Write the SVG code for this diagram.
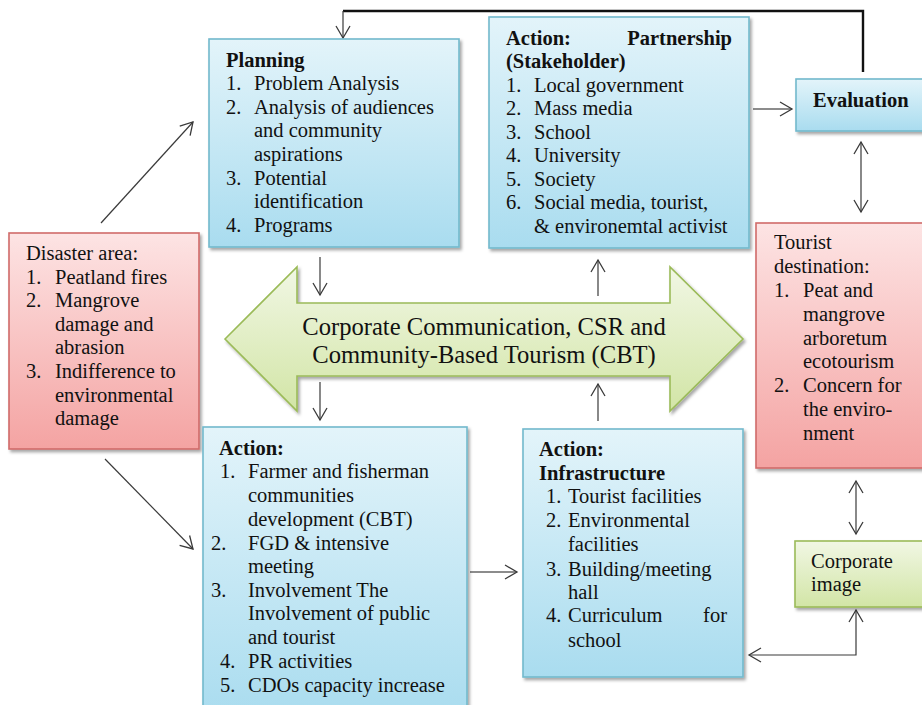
<svg xmlns="http://www.w3.org/2000/svg" width="922" height="705" viewBox="0 0 922 705">
<style>
.t{font-family:"Liberation Serif","Times New Roman",serif;font-size:20.5px;fill:#111}
.b{font-weight:bold}
.big{font-family:"Liberation Serif","Times New Roman",serif;font-size:24.6px;fill:#111}
.blue{fill:url(#gBlue);stroke:#72b9cc;stroke-width:1.6;filter:url(#sh)}
.red{fill:url(#gRed);stroke:#d06b69;stroke-width:1.6;filter:url(#sh)}
.green{fill:url(#gGreen);stroke:#9bbb59;stroke-width:1.6;filter:url(#sh)}
.c{fill:none;stroke:#3a3a3a;stroke-width:1.2}
.cg{fill:none;stroke:#666;stroke-width:1.4}
.fb{fill:none;stroke:#111;stroke-width:2.4}
</style>
<defs>
<linearGradient id="gBlue" x1="0" y1="0" x2="0" y2="1"><stop offset="0" stop-color="#e3f4fa"/><stop offset="1" stop-color="#a9dcef"/></linearGradient>
<linearGradient id="gRed" x1="0" y1="0" x2="0" y2="1"><stop offset="0" stop-color="#fde4e4"/><stop offset="1" stop-color="#f4a3a2"/></linearGradient>
<linearGradient id="gGreen" x1="0" y1="0" x2="0" y2="1"><stop offset="0" stop-color="#f1f7e4"/><stop offset="1" stop-color="#d2e5a6"/></linearGradient>
<filter id="sh" x="-10%" y="-10%" width="130%" height="130%"><feDropShadow dx="2" dy="2.5" stdDeviation="1.5" flood-color="#000" flood-opacity="0.35"/></filter>
<marker id="ah" markerUnits="userSpaceOnUse" markerWidth="16" markerHeight="18" refX="13" refY="8" orient="auto-start-reverse"><path d="M1,1 L13,8 L1,15" fill="none" stroke="#3a3a3a" stroke-width="1.3"/></marker>
</defs>

<g id="connectors">
<polyline class="fb" points="863,72 863,11 343,11"/>
<line x1="343" y1="11" x2="343" y2="38" class="c" marker-end="url(#ah)"/>
<line x1="101" y1="223" x2="193" y2="122" class="c" marker-end="url(#ah)"/>
<line x1="105" y1="459" x2="193" y2="549" class="c" marker-end="url(#ah)"/>
<line x1="320" y1="257" x2="320" y2="295" class="c" marker-end="url(#ah)"/>
<line x1="320" y1="382" x2="320" y2="420" class="c" marker-end="url(#ah)"/>
<line x1="598" y1="296" x2="598" y2="260" class="c" marker-end="url(#ah)"/>
<line x1="598" y1="421" x2="598" y2="384" class="c" marker-end="url(#ah)"/>
<line x1="753" y1="109" x2="792" y2="109" class="cg" marker-end="url(#ah)"/>
<line x1="861" y1="142" x2="861" y2="212" class="c" marker-start="url(#ah)" marker-end="url(#ah)"/>
<line x1="856" y1="481" x2="856" y2="534" class="c" marker-start="url(#ah)" marker-end="url(#ah)"/>
<polyline points="856,610 856,655 749,655" class="c" marker-start="url(#ah)" marker-end="url(#ah)"/>
<line x1="470" y1="572" x2="517" y2="572" class="cg" marker-end="url(#ah)"/>
</g>

<g id="cbt">
<polygon points="225,339 297,267 297,303 670,303 670,267 743,339 670,411 670,376 297,376 297,411" fill="url(#gGreen)" stroke="#9bbb59" stroke-width="1.6" filter="url(#sh)"/>
<text class="big" x="484" y="335" text-anchor="middle">Corporate Communication, CSR and</text>
<text class="big" x="484" y="363" text-anchor="middle">Community-Based Tourism (CBT)</text>
</g>

<g id="planning">
<rect class="blue" x="209" y="39" width="250" height="208"/>
<text class="t b" x="226" y="67">Planning</text>
<text class="t" x="226" y="90">1.</text><text class="t" x="254" y="90">Problem Analysis</text>
<text class="t" x="226" y="114">2.</text><text class="t" x="254" y="114">Analysis of audiences</text>
<text class="t" x="254" y="137">and community</text>
<text class="t" x="254" y="161">aspirations</text>
<text class="t" x="226" y="185">3.</text><text class="t" x="254" y="185">Potential</text>
<text class="t" x="254" y="208">identification</text>
<text class="t" x="226" y="232">4.</text><text class="t" x="254" y="232">Programs</text>
</g>

<g id="partnership">
<rect class="blue" x="489" y="17" width="260" height="231"/>
<text class="t b" x="506" y="45">Action:</text>
<text class="t b" x="732" y="45" text-anchor="end">Partnership</text>
<text class="t b" x="506" y="68">(Stakeholder)</text>
<text class="t" x="506" y="92">1.</text><text class="t" x="534" y="92">Local government</text>
<text class="t" x="506" y="115">2.</text><text class="t" x="534" y="115">Mass media</text>
<text class="t" x="506" y="139">3.</text><text class="t" x="534" y="139">School</text>
<text class="t" x="506" y="162">4.</text><text class="t" x="534" y="162">University</text>
<text class="t" x="506" y="186">5.</text><text class="t" x="534" y="186">Society</text>
<text class="t" x="506" y="209">6.</text><text class="t" x="534" y="209">Social media, tourist,</text>
<text class="t" x="534" y="233">&amp; environemtal activist</text>
</g>

<g id="evaluation">
<rect class="blue" x="796" y="79" width="130" height="52"/>
<text class="t b" x="813" y="107">Evaluation</text>
</g>

<g id="disaster">
<rect class="red" x="9" y="233" width="190" height="216"/>
<text class="t" x="26" y="260">Disaster area:</text>
<text class="t" x="26" y="284">1.</text><text class="t" x="55" y="284">Peatland fires</text>
<text class="t" x="26" y="307">2.</text><text class="t" x="55" y="307">Mangrove</text>
<text class="t" x="55" y="331">damage and</text>
<text class="t" x="55" y="354">abrasion</text>
<text class="t" x="26" y="378">3.</text><text class="t" x="55" y="378">Indifference to</text>
<text class="t" x="55" y="402">environmental</text>
<text class="t" x="55" y="425">damage</text>
</g>

<g id="tourist">
<rect class="red" x="756" y="223" width="170" height="245"/>
<text class="t" x="774" y="249">Tourist</text>
<text class="t" x="774" y="273">destination:</text>
<text class="t" x="774" y="297">1.</text><text class="t" x="803" y="297">Peat and</text>
<text class="t" x="803" y="321">mangrove</text>
<text class="t" x="803" y="345">arboretum</text>
<text class="t" x="803" y="368">ecotourism</text>
<text class="t" x="774" y="392">2.</text><text class="t" x="803" y="392">Concern for</text>
<text class="t" x="803" y="416">the enviro-</text>
<text class="t" x="803" y="440">nment</text>
</g>

<g id="action">
<rect class="blue" x="203" y="427" width="264" height="292"/>
<text class="t b" x="219" y="455">Action:</text>
<text class="t" x="220" y="478">1.</text><text class="t" x="248" y="478">Farmer and fisherman</text>
<text class="t" x="248" y="502">communities</text>
<text class="t" x="248" y="526">development (CBT)</text>
<text class="t" x="211" y="550">2.</text><text class="t" x="248" y="550">FGD &amp; intensive</text>
<text class="t" x="248" y="573">meeting</text>
<text class="t" x="211" y="597">3.</text><text class="t" x="248" y="597">Involvement The</text>
<text class="t" x="248" y="620">Involvement of public</text>
<text class="t" x="248" y="644">and tourist</text>
<text class="t" x="220" y="668">4.</text><text class="t" x="248" y="668">PR activities</text>
<text class="t" x="220" y="692">5.</text><text class="t" x="248" y="692">CDOs capacity increase</text>
</g>

<g id="infrastructure">
<rect class="blue" x="523" y="429" width="220" height="248"/>
<text class="t b" x="539" y="456">Action:</text>
<text class="t b" x="539" y="480">Infrastructure</text>
<text class="t" x="546" y="503">1.</text><text class="t" x="568" y="503">Tourist facilities</text>
<text class="t" x="546" y="527">2.</text><text class="t" x="568" y="527">Environmental</text>
<text class="t" x="568" y="551">facilities</text>
<text class="t" x="546" y="576">3.</text><text class="t" x="568" y="576">Building/meeting</text>
<text class="t" x="568" y="599">hall</text>
<text class="t" x="546" y="622">4.</text><text class="t" x="568" y="622">Curriculum</text><text class="t" x="727" y="622" text-anchor="end">for</text>
<text class="t" x="568" y="647">school</text>
</g>

<g id="corporate-image">
<rect class="green" x="795" y="541" width="130" height="66"/>
<text class="t" x="811" y="568">Corporate</text>
<text class="t" x="811" y="591">image</text>
</g>
</svg>
